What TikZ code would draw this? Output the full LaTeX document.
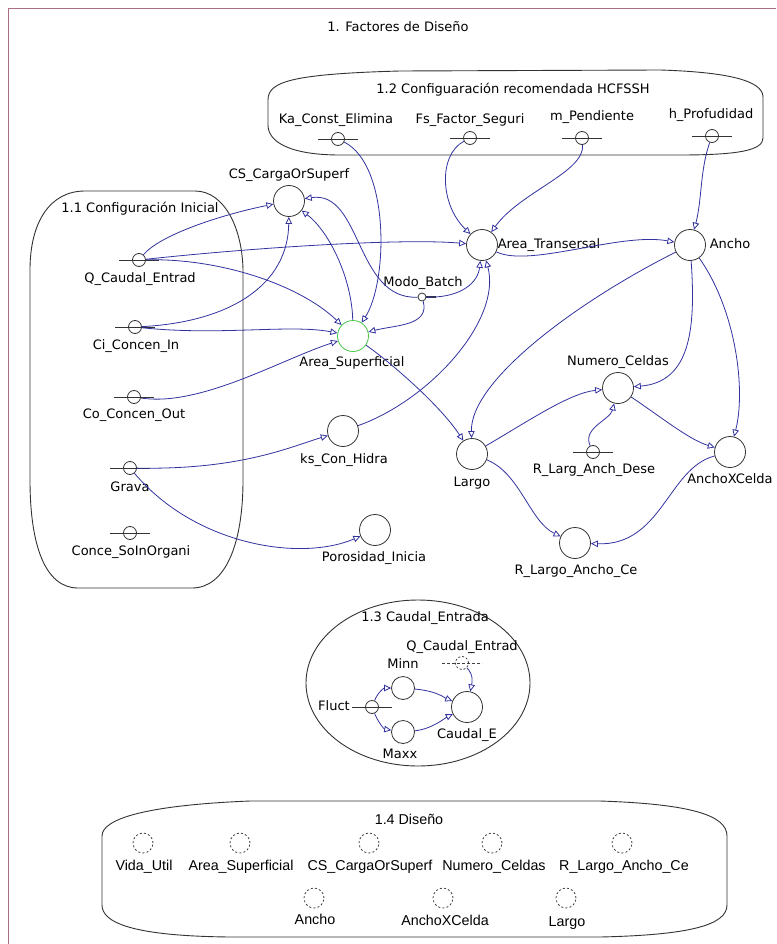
\documentclass[tikz,border=0pt]{standalone}
\usepackage{fontspec}
\setmainfont{DejaVu Sans}
\newfontfamily\disenofont{Liberation Sans}
\usetikzlibrary{arrows.meta}
\definecolor{connc}{RGB}{50,50,160}
\definecolor{framec}{RGB}{170,110,130}
\definecolor{greenc}{RGB}{70,200,70}
\newcommand\cbar[2][20]{\draw[barline] ([xshift=-#1pt]#2.center) -- ([xshift=#1pt]#2.center);}
\begin{document}
\begin{tikzpicture}[x=1pt,y=-1pt,
  font=\fontsize{13}{15}\selectfont,
  aux/.style={circle,draw=black!80,line width=0.8pt,minimum size=31pt,inner sep=0pt},
  small/.style={circle,draw=black!80,line width=0.8pt,minimum size=23pt,inner sep=0pt},
  cst/.style={circle,draw=black!80,line width=0.8pt,minimum size=13pt,inner sep=0pt},
  barline/.style={draw=black!80,line width=0.8pt},
  lab/.style={inner sep=0pt,text height=9.5pt,text depth=3pt},
  dlab/.style={inner sep=0pt,text height=10pt,text depth=3pt,font=\disenofont\fontsize{14.3}{16}\selectfont},
  ghost/.style={circle,draw=black!75,line width=0.8pt,dash pattern=on 2pt off 2.2pt,minimum size=20pt,inner sep=0pt},
  conn/.style={draw=connc,line width=0.8pt,-{Triangle[open,length=7pt,width=6.5pt]}},
  grp/.style={draw=black!80,line width=0.9pt}
]
\useasboundingbox (0,0) rectangle (776,944);
\fill[white] (0,0) rectangle (776,944);
\draw[framec,line width=1pt] (8.5,944) -- (8.5,8.5) -- (776,8.5);

\node[lab] (title) at (398,28) {1. Factores de Diseño};

% ---------- group shapes
\draw[grp] (268,125) -- (268,100) .. controls (268,82) and (290,74) .. (400,71) -- (660,70)
  .. controls (725,72) and (763,80) .. (763,97) -- (763,138) .. controls (763,150) and (740,155) .. (680,155)
  -- (340,155) .. controls (290,155) and (268,142) .. (268,125);
\draw[grp] (30,300) -- (30,270) .. controls (30,222) and (50,191) .. (85,191) -- (195,191)
  .. controls (225,191) and (243,230) .. (243,272) -- (243,480) .. controls (243,545) and (225,588) .. (192,588)
  -- (78,588) .. controls (45,588) and (30,545) .. (30,480) -- cycle;
\draw[grp] (418,683) ellipse [x radius=112, y radius=83];
\draw[grp] (102,860) -- (102,836) .. controls (102,818) and (150,805) .. (250,801) -- (600,801)
  .. controls (690,804) and (727,815) .. (727,836) -- (727,905) .. controls (727,925) and (690,935) .. (600,937)
  -- (230,937) .. controls (130,936) and (102,922) .. (102,905) -- cycle;

\node[lab] (g12) at (513,90) {1.2 Configuaración recomendada HCFSSH};
\node[lab] (g11) at (140,209) {1.1 Configuración Inicial};
\node[lab] (g13) at (425,618) {1.3 Caudal\_Entrada};

% ---------- 1.2 constants
\node[cst] (ka) at (338,139) {}; \cbar{ka}
\node[cst] (fs) at (470,138) {}; \cbar{fs}
\node[cst] (mp) at (582,138) {}; \cbar{mp}
\node[cst] (hp) at (712,136) {}; \cbar{hp}
\node[lab] at (336,120) {Ka\_Const\_Elimina};
\node[lab] at (470,120) {Fs\_Factor\_Seguri};
\node[lab] at (592,117) {m\_Pendiente};
\node[lab] at (711,115) {h\_Profudidad};

% ---------- 1.1 constants
\node[cst] (q) at (139,260) {}; \cbar{q}
\node[cst] (ci) at (135,327) {}; \cbar{ci}
\node[cst] (co) at (134,397) {}; \cbar{co}
\node[cst] (gr) at (130,468) {}; \cbar{gr}
\node[cst] (cs2) at (130,533) {}; \cbar{cs2}
\node[lab] at (140,279) {Q\_Caudal\_Entrad};
\node[lab] at (136,346) {Ci\_Concen\_In};
\node[lab] at (134,415) {Co\_Concen\_Out};
\node[lab] at (130,488) {Grava};
\node[lab] at (131,552) {Conce\_SoInOrgani};

% ---------- auxiliaries
\node[aux] (cs) at (289,201) {};
\node[lab] at (289,175) {CS\_CargaOrSuperf};
\node[aux] (at) at (482,245) {};
\node[lab] at (549,245) {Area\_Transersal};
\node[aux] (an) at (690,245) {};
\node[lab] at (730,245) {Ancho};
\node[aux,draw=greenc] (as) at (353,336) {};
\node[lab] at (352,363) {Area\_Superficial};
\node[circle,draw=black!80,line width=0.8pt,minimum size=8pt,inner sep=0pt] (mb) at (422,297) {};
\draw[barline,line width=1.2pt] ([xshift=4pt]mb.center) -- ([xshift=14pt]mb.center);
\node[lab] at (423,283) {Modo\_Batch};
\node[aux] (ks) at (343,431) {};
\node[lab] at (344,460) {ks\_Con\_Hidra};
\node[aux] (lg) at (472,454) {};
\node[lab] at (472,483) {Largo};
\node[aux] (nc) at (618,388) {};
\node[lab] at (618,362) {Numero\_Celdas};
\node[cst] (rd) at (593,452) {}; \cbar{rd}
\node[lab] at (594,470) {R\_Larg\_Anch\_Dese};
\node[aux] (ax) at (730,452) {};
\node[lab] at (730,480) {AnchoXCelda};
\node[aux] (rl) at (575,543) {};
\node[lab] at (576,571) {R\_Largo\_Ancho\_Ce};
\node[aux] (po) at (375,530) {};
\node[lab] at (374,558) {Porosidad\_Inicia};

% ---------- connectors (main)
\draw[conn] (q) .. controls (160,235) and (220,215) .. (cs);
\draw[conn] (q) .. controls (250,248) and (400,238) .. (at);
\draw[conn] (q) .. controls (220,258) and (300,285) .. (as);
\draw[conn] (ci) .. controls (230,322) and (288,285) .. (cs);
\draw[conn] (ci) .. controls (220,336) and (290,324) .. (as);
\draw[conn] (co) .. controls (200,407) and (280,360) .. (as);
\draw[conn] (as) .. controls (352,280) and (330,232) .. (cs);
\draw[conn] (mb) .. controls (355,300) and (362,190) .. (cs);
\draw[conn] (mb) .. controls (462,298) and (478,282) .. (at);
\draw[conn] (mb) .. controls (430,326) and (395,325) .. (as);
\draw[conn] (ka) .. controls (390,165) and (388,282) .. (as);
\draw[conn] (fs) .. controls (438,155) and (440,205) .. (at);
\draw[conn] (mp) .. controls (585,172) and (520,192) .. (at);
\draw[conn] (hp) .. controls (700,170) and (702,200) .. (an);
\draw[conn] (at) .. controls (530,268) and (620,232) .. (an);
\draw[conn] (as) .. controls (390,362) and (440,405) .. (lg);
\draw[conn] (ks) .. controls (430,400) and (502,320) .. (at);
\draw[conn] (gr) .. controls (240,470) and (290,447) .. (ks);
\draw[conn] (gr) .. controls (195,545) and (300,562) .. (po);
\draw[conn] (an) .. controls (580,300) and (470,380) .. (lg);
\draw[conn] (an) .. controls (696,330) and (690,382) .. (nc);
\draw[conn] (an) .. controls (736,310) and (746,390) .. (ax);
\draw[conn] (lg) .. controls (530,420) and (570,393) .. (nc);
\draw[conn] (rd) .. controls (582,428) and (610,420) .. (nc);
\draw[conn] (nc) .. controls (665,420) and (690,440) .. (ax);
\draw[conn] (lg) .. controls (520,473) and (530,522) .. (rl);
\draw[conn] (ax) .. controls (668,468) and (662,546) .. (rl);

% ---------- 1.3
\node[cst,draw=black!75,dash pattern=on 2pt off 2pt] (qd) at (462,663) {};
\draw[black!75,line width=0.8pt,dash pattern=on 2.5pt off 2.5pt] ([xshift=-20pt]qd.center) -- ([xshift=20pt]qd.center);
\node[lab] at (462,647) {Q\_Caudal\_Entrad};
\node[small] (mi) at (403,688) {};
\node[lab] at (403,665) {Minn};
\node[small] (mx) at (403,732) {};
\node[lab] at (400,755) {Maxx};
\node[cst] (fl) at (372,707) {}; \cbar{fl}
\node[lab] at (334,707) {Fluct};
\node[aux] (ce) at (467,707) {};
\node[lab] at (467,735) {Caudal\_E};
\draw[conn] (fl) .. controls (378,692) and (384,688) .. (mi);
\draw[conn] (fl) .. controls (378,722) and (384,729) .. (mx);
\draw[conn] (mi) .. controls (437,691) and (445,698) .. (ce);
\draw[conn] (mx) .. controls (432,729) and (445,718) .. (ce);
\draw[conn] (qd) .. controls (474,675) and (472,683) .. (ce);

% ---------- 1.4
\node[dlab] at (409,821) {1.4 Diseño};
\node[ghost] (d1) at (143,843) {};
\node[ghost] (d2) at (240,843) {};
\node[ghost] (d3) at (369,843) {};
\node[ghost] (d4) at (492,843) {};
\node[ghost] (d5) at (622,843) {};
\node[ghost] (d6) at (314,898) {};
\node[ghost] (d7) at (443,898) {};
\node[ghost] (d8) at (566,898) {};
\node[dlab] at (144,867) {Vida\_Util};
\node[dlab] at (241,867) {Area\_Superficial};
\node[dlab] at (370,867) {CS\_CargaOrSuperf};
\node[dlab] at (494,867) {Numero\_Celdas};
\node[dlab] at (624,867) {R\_Largo\_Ancho\_Ce};
\node[dlab] at (315,921) {Ancho};
\node[dlab] at (445,922) {AnchoXCelda};
\node[dlab] at (567,923) {Largo};
\end{tikzpicture}
\end{document}
